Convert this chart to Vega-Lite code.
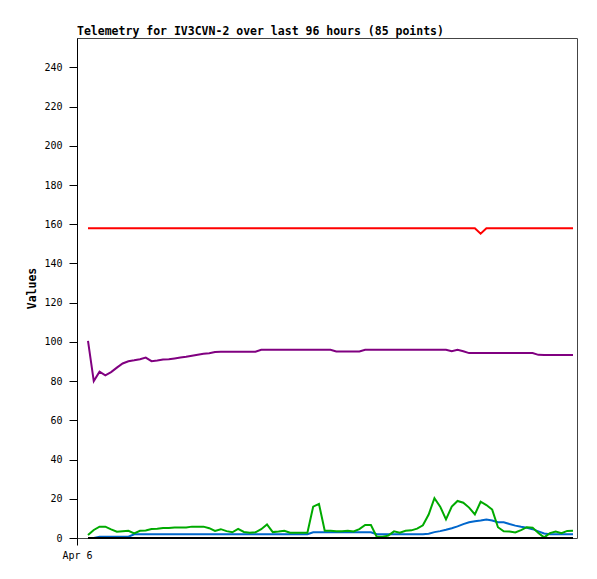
{
  "$schema": "https://vega.github.io/schema/vega-lite/v6.json",
  "autosize": {"type": "none"},
  "padding": {"left": 77, "top": 38, "right": 20, "bottom": 41},
  "width": 500,
  "height": 500,
  "background": "white",
  "config": {
    "view": {"stroke": "#444", "strokeWidth": 1},
    "axis": {"grid": false, "domainColor": "black", "tickColor": "black", "labelColor": "black", "titleColor": "black", "labelFont": "DejaVu Sans Mono", "titleFont": "DejaVu Sans Mono", "labelFontSize": 10, "labelFontWeight": "normal"}
  },
  "title": {"text": "Telemetry for IV3CVN-2 over last 96 hours (85 points)", "anchor": "start", "frame": "group", "font": "DejaVu Sans Mono", "fontSize": 11.5, "fontWeight": "bold", "color": "black", "offset": 3, "baseline": "bottom", "dy": 13},
  "data": {"values": [
    {"point":0,"Red":158,"Purple":100.5,"Green":1.5,"Blue":0,"Black":0},
    {"point":1,"Red":158,"Purple":80,"Green":4.1,"Blue":0,"Black":0},
    {"point":2,"Red":158,"Purple":84.8,"Green":5.8,"Blue":0.7,"Black":0},
    {"point":3,"Red":158,"Purple":83,"Green":5.8,"Blue":0.7,"Black":0},
    {"point":4,"Red":158,"Purple":84.6,"Green":4.4,"Blue":0.7,"Black":0},
    {"point":5,"Red":158,"Purple":86.9,"Green":3.2,"Blue":0.7,"Black":0},
    {"point":6,"Red":158,"Purple":89,"Green":3.5,"Blue":0.7,"Black":0},
    {"point":7,"Red":158,"Purple":90.1,"Green":3.7,"Blue":0.7,"Black":0},
    {"point":8,"Red":158,"Purple":90.6,"Green":2.4,"Blue":1.9,"Black":0},
    {"point":9,"Red":158,"Purple":91.2,"Green":3.7,"Blue":1.9,"Black":0},
    {"point":10,"Red":158,"Purple":92,"Green":3.8,"Blue":1.9,"Black":0},
    {"point":11,"Red":158,"Purple":90.2,"Green":4.6,"Blue":1.9,"Black":0},
    {"point":12,"Red":158,"Purple":90.5,"Green":4.7,"Blue":1.9,"Black":0},
    {"point":13,"Red":158,"Purple":91,"Green":5.1,"Blue":1.9,"Black":0},
    {"point":14,"Red":158,"Purple":91.2,"Green":5.1,"Blue":1.9,"Black":0},
    {"point":15,"Red":158,"Purple":91.6,"Green":5.3,"Blue":1.9,"Black":0},
    {"point":16,"Red":158,"Purple":92,"Green":5.3,"Blue":1.9,"Black":0},
    {"point":17,"Red":158,"Purple":92.4,"Green":5.4,"Blue":1.9,"Black":0},
    {"point":18,"Red":158,"Purple":93,"Green":5.8,"Blue":1.9,"Black":0},
    {"point":19,"Red":158,"Purple":93.5,"Green":5.8,"Blue":1.9,"Black":0},
    {"point":20,"Red":158,"Purple":94,"Green":5.8,"Blue":1.9,"Black":0},
    {"point":21,"Red":158,"Purple":94.2,"Green":5.0,"Blue":1.9,"Black":0},
    {"point":22,"Red":158,"Purple":94.8,"Green":3.6,"Blue":1.9,"Black":0},
    {"point":23,"Red":158,"Purple":95,"Green":4.5,"Blue":1.9,"Black":0},
    {"point":24,"Red":158,"Purple":95,"Green":3.5,"Blue":1.9,"Black":0},
    {"point":25,"Red":158,"Purple":95,"Green":2.9,"Blue":1.9,"Black":0},
    {"point":26,"Red":158,"Purple":95,"Green":4.6,"Blue":1.9,"Black":0},
    {"point":27,"Red":158,"Purple":95,"Green":3.1,"Blue":1.9,"Black":0},
    {"point":28,"Red":158,"Purple":95,"Green":2.7,"Blue":1.9,"Black":0},
    {"point":29,"Red":158,"Purple":95,"Green":2.9,"Blue":1.9,"Black":0},
    {"point":30,"Red":158,"Purple":96,"Green":4.5,"Blue":1.9,"Black":0},
    {"point":31,"Red":158,"Purple":96,"Green":6.9,"Blue":1.9,"Black":0},
    {"point":32,"Red":158,"Purple":96,"Green":3.0,"Blue":1.9,"Black":0},
    {"point":33,"Red":158,"Purple":96,"Green":3.3,"Blue":1.9,"Black":0},
    {"point":34,"Red":158,"Purple":96,"Green":3.7,"Blue":1.9,"Black":0},
    {"point":35,"Red":158,"Purple":96,"Green":2.7,"Blue":1.9,"Black":0},
    {"point":36,"Red":158,"Purple":96,"Green":2.7,"Blue":1.9,"Black":0},
    {"point":37,"Red":158,"Purple":96,"Green":2.7,"Blue":1.9,"Black":0},
    {"point":38,"Red":158,"Purple":96,"Green":2.7,"Blue":1.9,"Black":0},
    {"point":39,"Red":158,"Purple":96,"Green":16.0,"Blue":2.9,"Black":0},
    {"point":40,"Red":158,"Purple":96,"Green":17.4,"Blue":2.9,"Black":0},
    {"point":41,"Red":158,"Purple":96,"Green":3.7,"Blue":2.9,"Black":0},
    {"point":42,"Red":158,"Purple":96,"Green":3.7,"Blue":2.9,"Black":0},
    {"point":43,"Red":158,"Purple":95.1,"Green":3.4,"Blue":2.9,"Black":0},
    {"point":44,"Red":158,"Purple":95.1,"Green":3.5,"Blue":2.9,"Black":0},
    {"point":45,"Red":158,"Purple":95.1,"Green":3.7,"Blue":2.9,"Black":0},
    {"point":46,"Red":158,"Purple":95.1,"Green":3.3,"Blue":2.9,"Black":0},
    {"point":47,"Red":158,"Purple":95.1,"Green":4.5,"Blue":2.9,"Black":0},
    {"point":48,"Red":158,"Purple":96,"Green":6.6,"Blue":2.9,"Black":0},
    {"point":49,"Red":158,"Purple":96,"Green":6.6,"Blue":2.9,"Black":0},
    {"point":50,"Red":158,"Purple":96,"Green":0.7,"Blue":1.9,"Black":0},
    {"point":51,"Red":158,"Purple":96,"Green":0.7,"Blue":1.9,"Black":0},
    {"point":52,"Red":158,"Purple":96,"Green":1.2,"Blue":1.9,"Black":0},
    {"point":53,"Red":158,"Purple":96,"Green":3.4,"Blue":1.9,"Black":0},
    {"point":54,"Red":158,"Purple":96,"Green":2.7,"Blue":1.9,"Black":0},
    {"point":55,"Red":158,"Purple":96,"Green":3.7,"Blue":1.9,"Black":0},
    {"point":56,"Red":158,"Purple":96,"Green":3.9,"Blue":1.9,"Black":0},
    {"point":57,"Red":158,"Purple":96,"Green":4.8,"Blue":1.9,"Black":0},
    {"point":58,"Red":158,"Purple":96,"Green":6.5,"Blue":1.9,"Black":0},
    {"point":59,"Red":158,"Purple":96,"Green":12.0,"Blue":2.2,"Black":0},
    {"point":60,"Red":158,"Purple":96,"Green":20.3,"Blue":3.0,"Black":0},
    {"point":61,"Red":158,"Purple":96,"Green":16.0,"Blue":3.5,"Black":0},
    {"point":62,"Red":158,"Purple":96,"Green":9.5,"Blue":4.2,"Black":0},
    {"point":63,"Red":158,"Purple":95.2,"Green":16.0,"Blue":5.0,"Black":0},
    {"point":64,"Red":158,"Purple":96,"Green":18.9,"Blue":5.9,"Black":0},
    {"point":65,"Red":158,"Purple":95.2,"Green":18.0,"Blue":7.1,"Black":0},
    {"point":66,"Red":158,"Purple":94.3,"Green":15.5,"Blue":8.0,"Black":0},
    {"point":67,"Red":158,"Purple":94.3,"Green":12.0,"Blue":8.5,"Black":0},
    {"point":68,"Red":155.2,"Purple":94.3,"Green":18.5,"Blue":8.9,"Black":0},
    {"point":69,"Red":158,"Purple":94.3,"Green":16.8,"Blue":9.4,"Black":0},
    {"point":70,"Red":158,"Purple":94.3,"Green":14.5,"Blue":8.9,"Black":0},
    {"point":71,"Red":158,"Purple":94.3,"Green":5.5,"Blue":8.0,"Black":0},
    {"point":72,"Red":158,"Purple":94.3,"Green":3.4,"Blue":8.0,"Black":0},
    {"point":73,"Red":158,"Purple":94.3,"Green":3.3,"Blue":7.1,"Black":0},
    {"point":74,"Red":158,"Purple":94.3,"Green":2.8,"Blue":6.3,"Black":0},
    {"point":75,"Red":158,"Purple":94.3,"Green":4.0,"Blue":5.7,"Black":0},
    {"point":76,"Red":158,"Purple":94.3,"Green":5.5,"Blue":5.2,"Black":0},
    {"point":77,"Red":158,"Purple":94.3,"Green":5.3,"Blue":4.5,"Black":0},
    {"point":78,"Red":158,"Purple":93.4,"Green":2.5,"Blue":3.4,"Black":0},
    {"point":79,"Red":158,"Purple":93.3,"Green":0.3,"Blue":2.3,"Black":0},
    {"point":80,"Red":158,"Purple":93.3,"Green":2.5,"Blue":1.9,"Black":0},
    {"point":81,"Red":158,"Purple":93.3,"Green":3.3,"Blue":1.9,"Black":0},
    {"point":82,"Red":158,"Purple":93.3,"Green":2.4,"Blue":1.9,"Black":0},
    {"point":83,"Red":158,"Purple":93.3,"Green":3.6,"Blue":1.9,"Black":0},
    {"point":84,"Red":158,"Purple":93.3,"Green":3.7,"Blue":1.9,"Black":0}
  ]},
  "encoding": {
    "x": {"field": "point", "type": "quantitative", "scale": {"domain": [-1.905, 84.69], "nice": false, "zero": false},
      "axis": {"title": null, "domain": false, "values": [-1.905], "tickSize": 7, "labelExpr": "'Apr 6'", "labelFontSize": 10, "labelPadding": 5, "labelFlush": false}}
  },
  "layer": [
    {"mark": {"type": "line", "color": "#0066cc", "strokeWidth": 2}, "encoding": {"y": {"field": "Blue", "type": "quantitative", "scale": {"domain": [0, 255], "nice": false}, "axis": {"title": "Values", "titleFontSize": 11.5, "titleFontWeight": "bold", "values": [0,20,40,60,80,100,120,140,160,180,200,220,240], "tickSize": 8, "labelPadding": 7, "titlePadding": 6}}}},
    {"mark": {"type": "line", "color": "#00aa00", "strokeWidth": 2}, "encoding": {"y": {"field": "Green", "type": "quantitative"}}},
    {"mark": {"type": "line", "color": "#800080", "strokeWidth": 2}, "encoding": {"y": {"field": "Purple", "type": "quantitative"}}},
    {"mark": {"type": "line", "color": "#ff0000", "strokeWidth": 2}, "encoding": {"y": {"field": "Red", "type": "quantitative"}}},
    {"mark": {"type": "line", "color": "#000000", "strokeWidth": 2}, "encoding": {"y": {"field": "Black", "type": "quantitative"}}}
  ]
}
